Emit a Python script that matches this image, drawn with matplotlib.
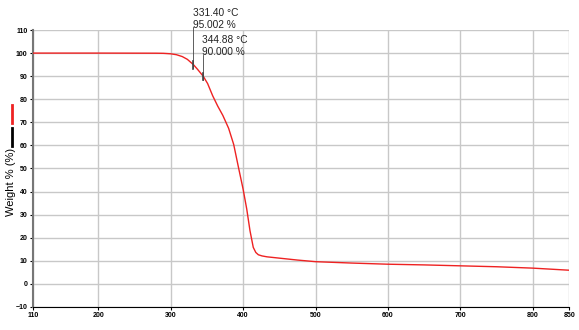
import matplotlib.pyplot as plt
from matplotlib.lines import Line2D

plt.rcParams['font.family'] = ['Liberation Sans', 'DejaVu Sans']

# TGA curve
temp = [110, 200, 280, 290, 300, 308, 316, 323, 331.4, 337, 344.88, 351, 358, 365,
        372, 380, 387, 393.5, 400, 405, 409.5, 414, 417.5, 421, 426, 433, 451,
        475, 500, 550, 600, 650, 700, 750, 800, 850]
weight = [100.0, 100.0, 99.95, 99.9, 99.7, 99.3, 98.5, 97.3, 95.002, 93.0, 90.0, 86.8,
          81.5, 77.0, 73.0, 67.4, 60.4, 50.6, 41.0, 32.4, 23.0, 15.8, 13.6, 12.6,
          12.1, 11.7, 11.1, 10.3, 9.6, 9.0, 8.5, 8.2, 7.8, 7.4, 6.8, 5.9]

marker_t = [331.40, 344.88]
marker_w = [95.002, 90.000]

xticks = [110, 200, 300, 400, 500, 600, 700, 800, 850]
yticks = list(range(-10, 111, 10))

fig = plt.figure(figsize=(5.79, 3.30), dpi=100)
ax = fig.add_axes([0.057, 0.070, 0.926, 0.839])

ax.plot(temp, weight, color='#ee2222', lw=1.0, zorder=3)

ax.set_xlim(110, 850)
ax.set_ylim(-10, 110)
ax.set_xticks(xticks)
ax.set_yticks(yticks)
ax.tick_params(labelsize=5, length=2, width=0.8, pad=2)
for lbl in ax.get_xticklabels() + ax.get_yticklabels():
    lbl.set_fontweight('bold')
ax.grid(True, color='#c8c8c8', lw=1.0)
ax.set_axisbelow(True)
for s in ['top', 'right']:
    ax.spines[s].set_visible(False)
ax.spines['left'].set_color('#777777')
ax.spines['left'].set_linewidth(1.5)
ax.spines['bottom'].set_color('black')
ax.set_ylabel('Weight % (%)', fontsize=8)
ax.yaxis.set_label_coords(-0.031, 0.45)

# onset markers with labels
tops = [111.5, 99.3]
for t, w, top in zip(marker_t, marker_w, tops):
    ax.plot([t, t], [w - 1.5, top], color='#444444', lw=0.6, clip_on=False, zorder=4)
    ax.plot([t, t], [w - 1.8, w + 1.5], color='#444444', lw=1.2, zorder=4)
ax.text(marker_t[0] - 1, 114.8, '331.40 \u00b0C\n95.002 %', fontsize=7.3, va='center',
        ha='left', linespacing=1.2, color='#222222')
ax.text(marker_t[1] - 1, 103.0, '344.88 \u00b0C\n90.000 %', fontsize=7.3, va='center',
        ha='left', linespacing=1.2, color='#222222')

# little legend strokes on the left
fig.add_artist(Line2D([12 / 579, 12 / 579], [1 - 105 / 330, 1 - 123 / 330],
                      color='#ee2222', lw=2))
fig.add_artist(Line2D([12 / 579, 12 / 579], [1 - 128 / 330, 1 - 146 / 330],
                      color='black', lw=2))

fig.savefig('out.png', dpi=100)
